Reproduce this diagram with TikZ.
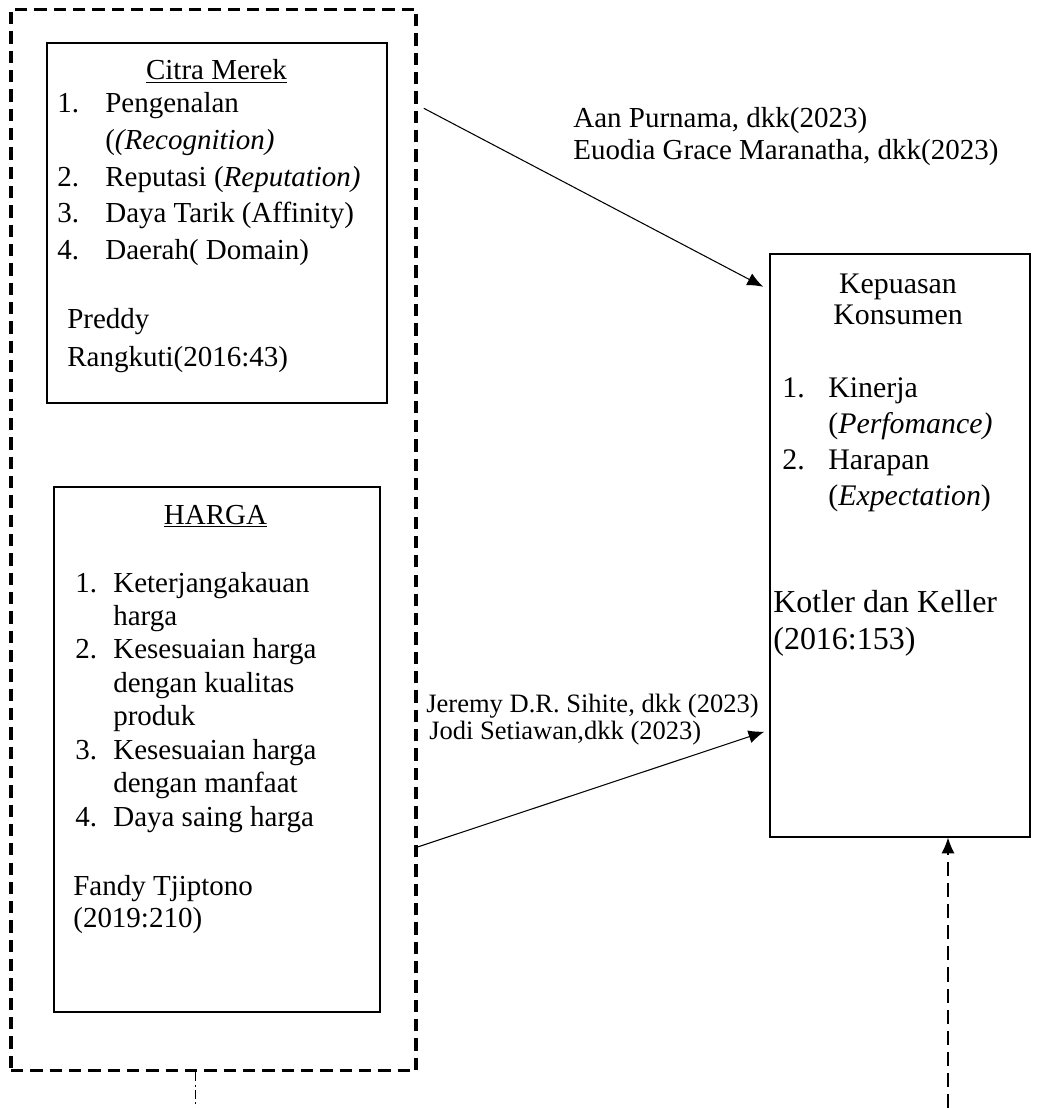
\documentclass[tikz,border=0pt]{standalone}
\usepackage{fontspec}
\setmainfont{Liberation Serif}
\usetikzlibrary{arrows.meta}

\newcommand{\setsz}[2]{\fontsize{#1pt}{#2pt}\selectfont}

\begin{document}
\begin{tikzpicture}[x=0.02cm, y=-0.02cm,
    box/.style={draw=black, line width=0.8pt, inner sep=0pt},
    txt/.style={inner sep=0pt, anchor=base west},
    arrow/.style={-{Latex[length=9pt,width=7.5pt]}, line width=0.6pt}]
    \useasboundingbox (0,0) rectangle (1037,1108);

    % kotak
    \begin{scope}[every node/.style={box}]
        \node[dash pattern=on 7pt off 4pt, line width=1.8pt, minimum width=8.1cm, minimum height=21.24cm] (group) at (213.5,540) {};
        \node[minimum width=6.8cm, minimum height=7.2cm] (citra) at (217,223) {};
        \node[minimum width=6.52cm, minimum height=10.5cm] (harga) at (217,749.5) {};
        \node[minimum width=5.2cm, minimum height=11.66cm] (kepuasan) at (900,545.5) {};
    \end{scope}

    % isi kotak
    \begin{scope}[every node/.style={txt, font=\setsz{16.5}{20.8}}]
        \node[anchor=base] (citraTitle) at (216.5,80) {\underline{Citra Merek}};
        \node (citraList) at (57,113) {\begin{tabular}[t]{@{}p{0.96cm}@{}l@{}}
            1. & Pengenalan\\
               & (\textit{(Recognition)}\\
            2. & Reputasi (\textit{Reputation)}\\
            3. & Daya Tarik (Affinity)\\
            4. & Daerah( Domain)
        \end{tabular}};
        \node[font=\setsz{16.5}{22.1}] (citraRef) at (67,328) {\begin{tabular}[t]{@{}l@{}}
            Preddy\\ Rangkuti(2016:43)
        \end{tabular}};

        \node[anchor=base] (hargaTitle) at (215.5,524) {\underline{HARGA}};
        \node[font=\setsz{16.5}{19.05}] (hargaList) at (75,592) {\begin{tabular}[t]{@{}p{0.76cm}@{}l@{}}
            1. & Keterjangakauan\\
               & harga\\
            2. & Kesesuaian harga\\
               & dengan kualitas\\
               & produk\\
            3. & Kesesuaian harga\\
               & dengan manfaat\\
            4. & Daya saing harga
        \end{tabular}};
        \node[font=\setsz{16.5}{18.7}] (hargaRef) at (73,895) {\begin{tabular}[t]{@{}l@{}}
            Fandy Tjiptono\\ (2019:210)
        \end{tabular}};

        \node[anchor=base, font=\setsz{17}{18.1}] (kepuasanTitle) at (898,293) {\begin{tabular}[t]{@{}c@{}}
            Kepuasan\\ Konsumen
        \end{tabular}};
        \node[font=\setsz{17}{20.6}] (kepuasanList) at (782,397) {\begin{tabular}[t]{@{}p{0.92cm}@{}l@{}}
            1. & Kinerja\\
               & (\textit{Perfomance)}\\
            2. & Harapan\\
               & (\textit{Expectation})
        \end{tabular}};
        \node[font=\setsz{18.2}{21.5}] (kepuasanRef) at (773,612) {\begin{tabular}[t]{@{}l@{}}
            Kotler dan Keller\\ (2016:153)
        \end{tabular}};

        % rujukan
        \node[font=\setsz{16.5}{18.1}] (citraCite) at (573,128) {\begin{tabular}[t]{@{}l@{}}
            Aan Purnama, dkk(2023)\\ Euodia Grace Maranatha, dkk(2023)
        \end{tabular}};
        \node[font=\setsz{15.1}{15.9}] (hargaCite) at (426,712) {\begin{tabular}[t]{@{}l@{}}
            Jeremy D.R. Sihite, dkk (2023)\\ \hspace*{0.06cm}Jodi Setiawan,dkk (2023)
        \end{tabular}};
    \end{scope}

    % panah
    \draw[arrow, shorten <=4pt, shorten >=4pt] (group.east |- 0,105) -- (kepuasan.west |- 0,290);
    \draw[arrow, shorten >=3pt] (group.east |- 0,847) -- (kepuasan.west |- 0,730);
    \coordinate (bottomRight) at (948,1108);
    \coordinate (bottomLeft) at (195,1108);
    \draw[arrow, dash pattern=on 8pt off 4pt] (bottomRight) -- (bottomRight |- kepuasan.south);
    \draw[line width=0.5pt, dash pattern=on 5pt off 2pt on 1pt off 2pt] (group.south -| bottomLeft) -- (bottomLeft);
\end{tikzpicture}
\end{document}
